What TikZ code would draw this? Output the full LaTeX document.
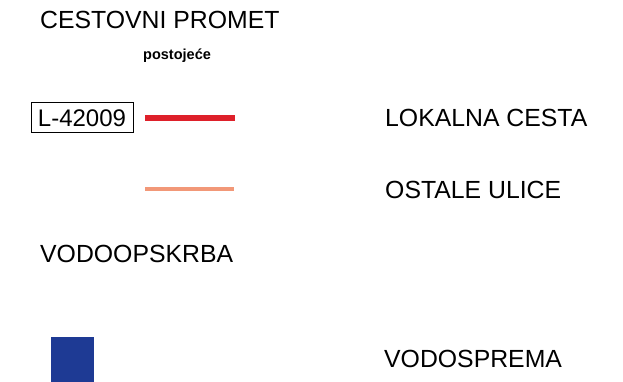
\documentclass[tikz,border=0pt]{standalone}
\usepackage{fontspec}
\setmainfont{Liberation Sans}
\definecolor{roadred}{RGB}{222,32,42}
\definecolor{streetor}{RGB}{242,152,120}
\definecolor{tankblue}{RGB}{30,58,148}
\begin{document}
\begin{tikzpicture}[x=1pt,y=-1pt,
  lbl/.style={anchor=base west,inner sep=0pt,font=\fontsize{24.8}{26}\selectfont},
  sub/.style={anchor=base west,inner sep=0pt,font=\fontsize{14.5}{16}\selectfont\bfseries},
  tag/.style={draw,line width=1pt,minimum width=102pt,minimum height=30pt,inner sep=0pt,font=\fontsize{24}{26}\selectfont},
  roadline/.style={line width=5.5pt,roadred},
  streetline/.style={line width=4pt,streetor}]
\useasboundingbox (0,0) rectangle (623,382);
\node[lbl] (cp) at (40,28.3) {CESTOVNI PROMET};
\node[sub] (post) at (143,59.3) {postojeće};
\node[tag] (l42) at (82,118) {L-42009};
\coordinate (r1) at (145,118);
\coordinate (r2) at (235,118);
\draw[roadline] (r1) -- (r2);
\node[lbl] (lok) at (385,127) {LOKALNA CESTA};
\coordinate (o1) at (145,189);
\coordinate (o2) at (234,189);
\draw[streetline] (o1) -- (o2);
\node[lbl] (ost) at (385,198) {OSTALE ULICE};
\node[lbl] (vod) at (40,262) {VODOOPSKRBA};
\fill[tankblue] (51,337) rectangle (94,382);
\node[lbl] (vsp) at (384,367) {VODOSPREMA};
\end{tikzpicture}
\end{document}
